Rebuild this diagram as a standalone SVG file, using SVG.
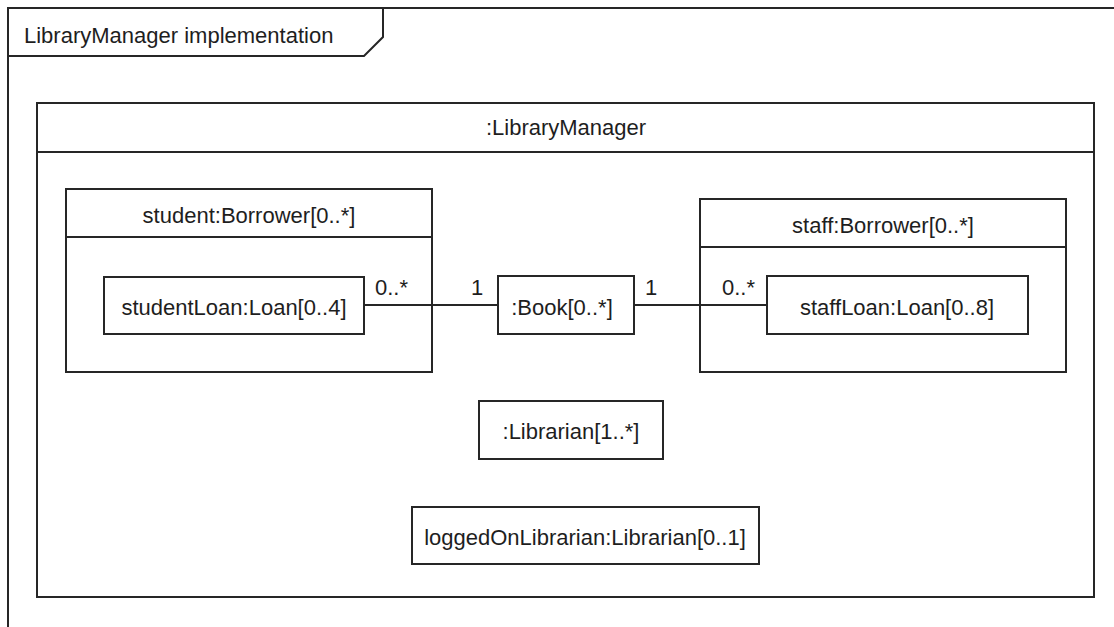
<svg xmlns="http://www.w3.org/2000/svg" width="1114" height="627" viewBox="0 0 1114 627">
  <style>
    .box { fill: #ffffff; stroke: #262626; stroke-width: 2; }
    .ln { fill: none; stroke: #262626; stroke-width: 2; }
    text { font-family: "Liberation Sans", Arial, sans-serif; font-size: 22px; fill: #1e1e1e; }
    .c { text-anchor: middle; }
  </style>
  <rect width="1114" height="627" fill="#ffffff"/>

  <!-- diagram frame with name tab -->
  <g id="frame">
    <path class="ln" d="M1114,8 H8 V627"/>
    <path class="ln" d="M8,56 H364 L383,37 V8"/>
    <text x="24" y="43">LibraryManager implementation</text>
  </g>

  <!-- containing part -->
  <g id="libraryManager">
    <rect class="box" x="37" y="103" width="1057" height="494"/>
    <line class="ln" x1="37" y1="152" x2="1094" y2="152"/>
    <text class="c" x="566" y="135">:LibraryManager</text>
  </g>

  <g id="studentBorrower">
    <rect class="box" x="66" y="189" width="366" height="183"/>
    <line class="ln" x1="66" y1="237" x2="432" y2="237"/>
    <text class="c" x="249" y="223">student:Borrower[0..*]</text>
  </g>

  <g id="studentLoan">
    <rect class="box" x="104" y="277" width="260" height="57"/>
    <text class="c" x="234" y="315">studentLoan:Loan[0..4]</text>
  </g>

  <g id="staffBorrower">
    <rect class="box" x="700" y="199" width="366" height="173"/>
    <line class="ln" x1="700" y1="247" x2="1066" y2="247"/>
    <text class="c" x="883" y="233">staff:Borrower[0..*]</text>
  </g>

  <g id="staffLoan">
    <rect class="box" x="767" y="276" width="261" height="58"/>
    <text class="c" x="897" y="315">staffLoan:Loan[0..8]</text>
  </g>

  <g id="book">
    <rect class="box" x="498" y="276" width="136" height="58"/>
    <text class="c" x="562" y="315">:Book[0..*]</text>
  </g>

  <g id="librarian">
    <rect class="box" x="479" y="401" width="184" height="58"/>
    <text class="c" x="571" y="439">:Librarian[1..*]</text>
  </g>

  <g id="loggedOnLibrarian">
    <rect class="box" x="412" y="507" width="347" height="57"/>
    <text class="c" x="585" y="545">loggedOnLibrarian:Librarian[0..1]</text>
  </g>

  <!-- connectors with multiplicities -->
  <g id="connectors">
    <line class="ln" x1="364" y1="305" x2="498" y2="305"/>
    <line class="ln" x1="634" y1="305" x2="767" y2="305"/>
    <text x="375" y="295">0..*</text>
    <text class="c" x="477" y="295">1</text>
    <text class="c" x="651" y="295">1</text>
    <text x="722" y="295">0..*</text>
  </g>
</svg>
